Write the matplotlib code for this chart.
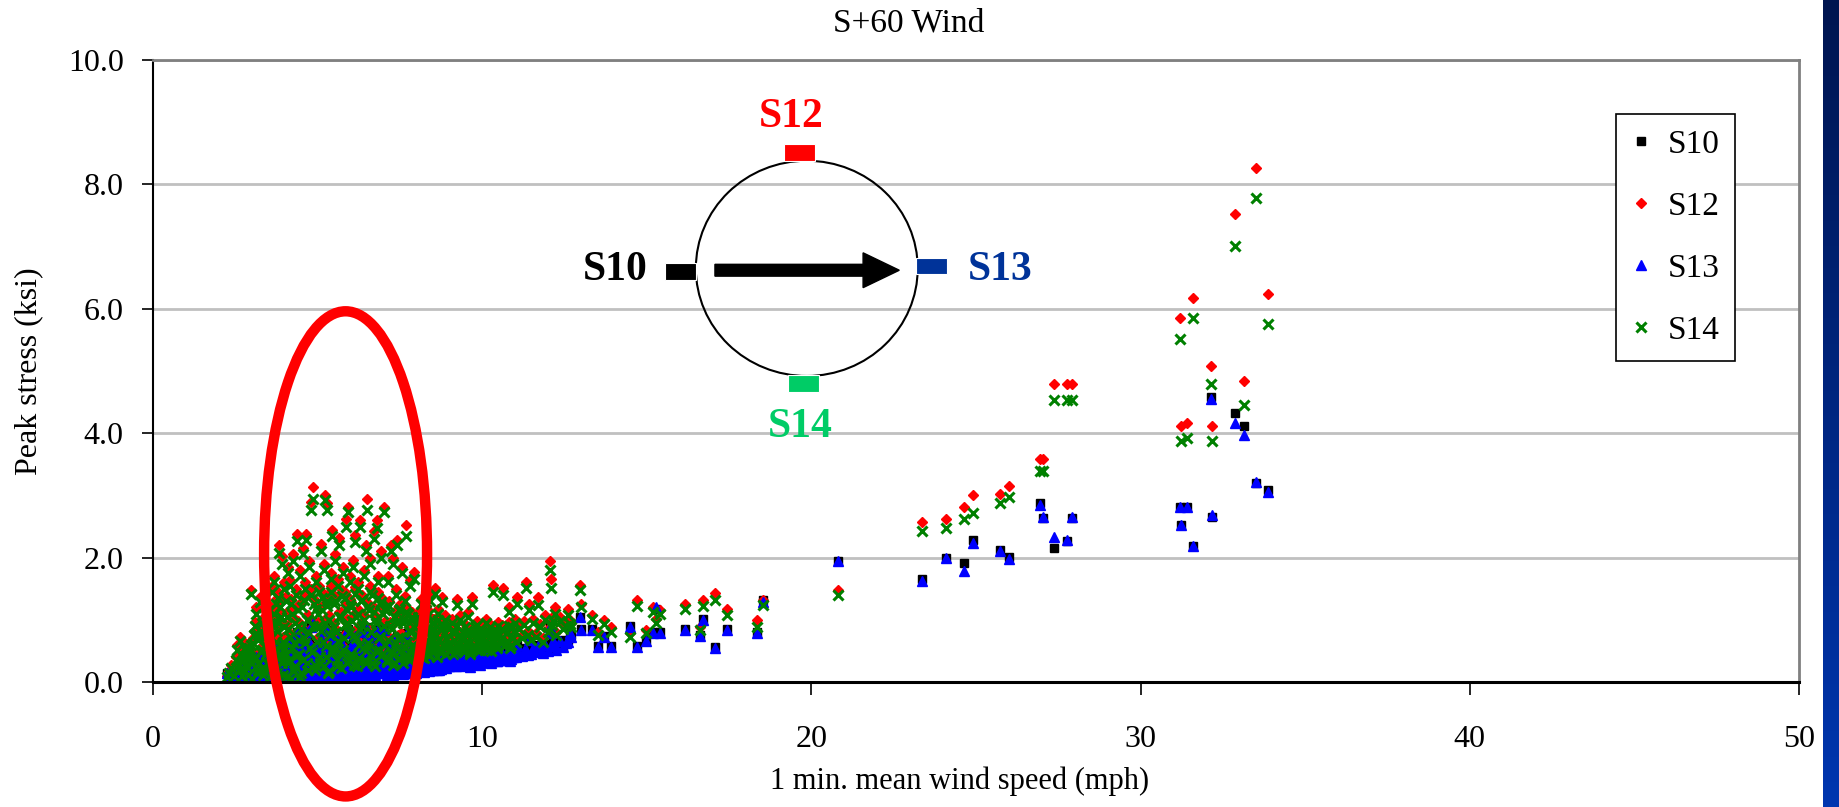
import numpy as np
import matplotlib
matplotlib.use("Agg")
import matplotlib.pyplot as plt
from matplotlib.patches import Ellipse, Rectangle, FancyArrow
from matplotlib.colors import LinearSegmentedColormap

plt.rcParams['font.family'] = ['Liberation Serif', 'DejaVu Serif']

# 1-min mean wind speed (mph) for each record, and peak stress (ksi) at each gauge
wind = [
    2.24, 2.30, 2.38, 2.45, 2.52, 2.55, 2.60, 2.64, 2.72, 2.80, 2.88, 2.93, 2.97, 2.99,
    3.02, 3.05, 3.08, 3.10, 3.14, 3.18, 3.20, 3.24, 3.27, 3.30, 3.33, 3.36, 3.40, 3.43, 3.46, 3.49,
    3.51, 3.53, 3.56, 3.58, 3.61, 3.63, 3.66, 3.68, 3.71, 3.73, 3.76, 3.78, 3.81, 3.84, 3.86, 3.88, 3.91, 3.93, 3.96, 3.98,
    4.01, 4.04, 4.06, 4.09, 4.11, 4.14, 4.17, 4.19, 4.22, 4.25, 4.28, 4.31, 4.34, 4.38, 4.41, 4.44,
    4.47, 4.50, 4.53, 4.56, 4.60, 4.63, 4.66, 4.69, 4.72, 4.75, 4.78, 4.81, 4.85, 4.88, 4.92, 4.96,
    5.00, 5.03, 5.06, 5.09, 5.12, 5.15, 5.18, 5.22, 5.25, 5.28, 5.30, 5.33, 5.36, 5.40, 5.43, 5.46,
    5.50, 5.53, 5.56, 5.60, 5.63, 5.66, 5.70, 5.73, 5.76, 5.80, 5.83, 5.87, 5.90, 5.93, 5.96, 5.99,
    6.02, 6.05, 6.08, 6.11, 6.14, 6.17, 6.20, 6.24, 6.27, 6.30, 6.33, 6.36, 6.40, 6.43, 6.46, 6.49,
    6.52, 6.55, 6.58, 6.62, 6.65, 6.68, 6.71, 6.74, 6.77, 6.80, 6.83, 6.86, 6.90, 6.93, 6.96, 6.99,
    7.03, 7.06, 7.09, 7.12, 7.15, 7.19, 7.22, 7.25, 7.29, 7.32, 7.35, 7.38, 7.41, 7.45, 7.48,
    7.51, 7.55, 7.58, 7.61, 7.64, 7.68, 7.71, 7.74, 7.78, 7.81, 7.84, 7.88, 7.91, 7.94, 7.97,
    8.02, 8.06, 8.10, 8.14, 8.18, 8.22, 8.26, 8.30, 8.34, 8.38, 8.42, 8.46,
    8.50, 8.54, 8.57, 8.61, 8.65, 8.69, 8.73, 8.77, 8.81, 8.86, 8.91, 8.96,
    9.02, 9.07, 9.12, 9.17, 9.22, 9.27, 9.32, 9.37, 9.42, 9.47,
    9.52, 9.57, 9.62, 9.68, 9.73, 9.78, 9.83, 9.88, 9.92, 9.96,
    10.03, 10.08, 10.13, 10.18, 10.23, 10.28, 10.34, 10.39, 10.44, 10.49,
    10.54, 10.59, 10.64, 10.69, 10.74, 10.80, 10.85, 10.90, 10.95, 10.99,
    11.07, 11.33, 11.43, 11.70, 12.06, 12.08, 12.16, 12.20, 12.62, 12.66, 12.70, 12.97, 13.00,
    13.33, 13.53, 13.70, 13.90, 14.50, 14.71, 14.98, 15.20, 15.40, 15.28, 16.16, 16.62, 16.72,
    17.08, 17.45, 18.36, 18.54, 20.80, 23.36, 24.10, 24.64, 24.92, 25.73, 26.00, 26.95, 27.05,
    27.38, 27.75, 27.93, 31.20, 31.23, 31.40, 31.58, 32.14, 32.16, 32.87, 33.14, 33.51, 33.86,
]
s10 = [
    0.14, 0.09, 0.12, 0.07, 0.19, 0.21, 0.16, 0.26, 0.22, 0.11, 0.21, 0.27, 0.46, 0.17,
    0.05, 0.26, 0.13, 0.36, 0.42, 0.09, 0.30, 0.47, 0.19, 0.34, 0.06, 0.44, 0.23, 0.31, 0.11, 0.40,
    0.13, 0.44, 0.06, 0.26, 0.52, 0.11, 0.36, 0.57, 0.19, 0.45, 0.07, 0.31, 0.50, 0.64, 0.16, 0.40, 0.60, 0.10, 0.23, 0.54,
    0.21, 0.50, 0.07, 0.64, 0.31, 0.13, 0.57, 0.05, 0.41, 0.72, 0.23, 0.11, 0.52, 0.80, 0.33, 0.16,
    0.62, 0.09, 0.43, 0.74, 0.26, 0.54, 0.82, 0.13, 0.36, 0.67, 0.19, 0.90, 0.97, 0.45, 0.11, 0.58,
    0.33, 0.52, 0.13, 0.72, 0.42, 0.23, 0.62, 0.88, 0.15, 0.47, 0.84, 0.11, 0.36, 0.57, 0.77, 0.19,
    0.44, 0.68, 0.29, 0.11, 0.54, 0.74, 0.38, 0.17, 0.60, 0.25, 0.48, 0.80, 0.34, 0.86, 0.13, 0.56,
    0.44, 0.17, 0.64, 0.29, 0.76, 0.40, 0.13, 0.52, 0.21, 0.82, 0.47, 0.33, 0.60, 0.15, 0.72, 0.88,
    0.19, 0.42, 0.66, 0.31, 0.50, 0.13, 0.78, 0.37, 0.17, 0.84, 0.56, 0.25, 0.46, 0.68, 0.16, 0.40,
    0.86, 0.23, 0.44, 0.16, 0.57, 0.33, 0.70, 0.19, 0.64, 0.40, 0.15, 0.50, 0.74, 0.26, 0.42,
    0.21, 0.60, 0.35, 0.17, 0.47, 0.78, 0.25, 0.40, 0.16, 0.54, 0.31, 0.38, 0.21, 0.58, 0.19,
    0.21, 0.44, 0.29, 0.52, 0.19, 0.37, 0.25, 0.48, 0.33, 0.21, 0.54, 0.27,
    0.40, 0.23, 0.58, 0.31, 0.46, 0.21, 0.35, 0.52, 0.26, 0.42, 0.29, 0.38,
    0.31, 0.44, 0.26, 0.37, 0.52, 0.29, 0.46, 0.35, 0.27, 0.42,
    0.31, 0.48, 0.25, 0.54, 0.36, 0.31, 0.44, 0.33, 0.28, 0.40,
    0.41, 0.33, 0.50, 0.37, 0.46, 0.31, 0.62, 0.44, 0.35, 0.52,
    0.39, 0.48, 0.64, 0.36, 0.45, 0.57, 0.34, 0.50, 0.41, 0.54,
    0.62, 0.55, 0.70, 0.60, 0.90, 0.80, 0.68, 0.62, 0.67, 0.80, 0.75, 1.05, 0.86,
    0.86, 0.58, 0.74, 0.58, 0.90, 0.58, 0.67, 0.80, 0.80, 1.18, 0.86, 0.76, 1.01,
    0.56, 0.86, 0.80, 1.32, 1.95, 1.66, 1.99, 1.91, 2.28, 2.12, 2.01, 2.88, 2.64,
    2.15, 2.27, 2.64, 2.82, 2.52, 2.82, 2.18, 4.59, 2.66, 4.32, 4.12, 3.20, 3.09,
]
s12 = [
    0.10, 0.18, 0.28, 0.14, 0.40, 0.60, 0.33, 0.73, 0.46, 0.22, 0.52, 0.60, 1.48, 0.36,
    0.08, 0.70, 0.40, 0.97, 1.20, 0.25, 0.82, 1.36, 0.55, 1.02, 0.16, 1.30, 0.66, 0.92, 0.35, 1.12,
    0.45, 1.24, 0.12, 0.76, 1.55, 0.30, 1.02, 1.70, 0.58, 1.33, 0.20, 0.90, 1.44, 2.20, 0.50, 1.12, 2.02, 0.35, 0.72, 1.60,
    0.60, 1.38, 0.14, 1.85, 0.92, 0.40, 1.64, 0.08, 1.18, 2.05, 0.68, 0.30, 1.50, 2.38, 0.98, 0.50,
    1.80, 0.18, 1.28, 2.15, 0.76, 1.60, 2.38, 0.35, 1.08, 1.95, 0.60, 2.90, 3.14, 1.34, 0.24, 1.70,
    0.96, 1.55, 0.36, 2.22, 1.22, 0.70, 1.90, 3.01, 0.45, 1.40, 2.88, 0.20, 1.08, 1.76, 2.45, 0.60,
    1.34, 2.06, 0.86, 0.30, 1.65, 2.32, 1.12, 0.50, 1.85, 0.76, 1.44, 2.62, 1.02, 2.82, 0.40, 1.70,
    1.28, 0.45, 1.96, 0.82, 2.36, 1.12, 0.30, 1.60, 0.66, 2.60, 1.38, 0.96, 1.80, 0.40, 2.20, 2.95,
    0.60, 1.22, 2.00, 0.86, 1.50, 0.35, 2.42, 1.08, 0.56, 2.60, 1.70, 0.76, 1.33, 2.10, 0.50, 1.18,
    2.82, 0.66, 1.28, 0.40, 1.70, 0.96, 2.20, 0.50, 2.00, 1.12, 0.35, 1.50, 2.29, 0.76, 1.22,
    0.56, 1.85, 1.02, 0.45, 1.38, 2.52, 0.70, 1.18, 0.40, 1.64, 0.86, 1.08, 0.60, 1.77, 0.50,
    0.56, 1.12, 0.76, 1.34, 0.45, 0.96, 0.66, 1.22, 0.86, 0.50, 1.40, 0.70,
    1.02, 0.60, 1.51, 0.80, 1.18, 0.56, 0.92, 1.37, 0.66, 1.08, 0.76, 0.97,
    0.66, 1.02, 0.50, 0.86, 1.33, 0.60, 1.08, 0.76, 0.55, 0.94,
    0.68, 1.12, 0.53, 1.37, 0.82, 0.64, 0.98, 0.72, 0.58, 0.92,
    0.76, 0.60, 1.02, 0.68, 0.86, 0.55, 1.56, 0.80, 0.63, 0.96,
    0.72, 0.92, 1.51, 0.66, 0.84, 1.20, 0.60, 0.94, 0.76, 1.02,
    1.37, 1.61, 1.26, 1.37, 1.95, 1.65, 1.06, 1.20, 1.17, 1.00, 0.95, 1.56, 1.25,
    1.08, 0.81, 0.99, 0.89, 0.78, 1.32, 0.84, 1.21, 1.16, 1.02, 1.26, 0.89, 1.32,
    1.43, 1.17, 0.99, 1.32, 1.48, 2.58, 2.62, 2.82, 3.00, 3.02, 3.15, 3.58, 3.58,
    4.79, 4.79, 4.79, 5.85, 4.12, 4.16, 6.18, 5.08, 4.12, 7.53, 4.84, 8.26, 6.24,
]
s13 = [
    0.14, 0.08, 0.12, 0.06, 0.18, 0.20, 0.15, 0.25, 0.22, 0.10, 0.20, 0.26, 0.45, 0.16,
    0.04, 0.25, 0.12, 0.35, 0.40, 0.08, 0.28, 0.45, 0.18, 0.32, 0.05, 0.42, 0.22, 0.30, 0.10, 0.38,
    0.12, 0.42, 0.05, 0.25, 0.50, 0.10, 0.35, 0.55, 0.18, 0.44, 0.06, 0.30, 0.48, 0.62, 0.15, 0.38, 0.58, 0.09, 0.22, 0.52,
    0.20, 0.48, 0.06, 0.62, 0.30, 0.12, 0.55, 0.04, 0.40, 0.70, 0.22, 0.10, 0.50, 0.78, 0.32, 0.15,
    0.60, 0.08, 0.42, 0.72, 0.25, 0.52, 0.80, 0.12, 0.35, 0.65, 0.18, 0.88, 0.95, 0.44, 0.10, 0.56,
    0.32, 0.50, 0.12, 0.70, 0.40, 0.22, 0.60, 0.85, 0.14, 0.45, 0.82, 0.10, 0.35, 0.55, 0.75, 0.18,
    0.42, 0.66, 0.28, 0.10, 0.52, 0.72, 0.36, 0.16, 0.58, 0.24, 0.46, 0.78, 0.33, 0.84, 0.12, 0.54,
    0.42, 0.16, 0.62, 0.28, 0.74, 0.38, 0.12, 0.50, 0.20, 0.80, 0.45, 0.32, 0.58, 0.14, 0.70, 0.86,
    0.18, 0.40, 0.64, 0.30, 0.48, 0.12, 0.76, 0.36, 0.16, 0.82, 0.54, 0.24, 0.44, 0.66, 0.15, 0.38,
    0.84, 0.22, 0.42, 0.15, 0.55, 0.32, 0.68, 0.18, 0.62, 0.38, 0.14, 0.48, 0.72, 0.25, 0.40,
    0.20, 0.58, 0.34, 0.16, 0.45, 0.76, 0.24, 0.38, 0.15, 0.52, 0.30, 0.36, 0.20, 0.56, 0.18,
    0.20, 0.42, 0.28, 0.50, 0.18, 0.36, 0.24, 0.46, 0.32, 0.20, 0.52, 0.26,
    0.38, 0.22, 0.56, 0.30, 0.44, 0.20, 0.34, 0.50, 0.25, 0.40, 0.28, 0.36,
    0.30, 0.42, 0.25, 0.36, 0.50, 0.28, 0.44, 0.34, 0.26, 0.40,
    0.30, 0.46, 0.24, 0.52, 0.35, 0.30, 0.42, 0.32, 0.27, 0.38,
    0.40, 0.32, 0.48, 0.36, 0.44, 0.30, 0.60, 0.42, 0.34, 0.50,
    0.38, 0.46, 0.62, 0.35, 0.43, 0.55, 0.33, 0.48, 0.40, 0.52,
    0.60, 0.52, 0.68, 0.58, 0.89, 0.78, 0.66, 0.60, 0.65, 0.78, 0.73, 1.04, 0.84,
    0.84, 0.56, 0.73, 0.56, 0.89, 0.56, 0.66, 0.78, 0.78, 1.20, 0.84, 0.74, 0.99,
    0.54, 0.84, 0.78, 1.28, 1.95, 1.62, 1.99, 1.79, 2.23, 2.10, 1.97, 2.84, 2.66,
    2.33, 2.29, 2.66, 2.82, 2.52, 2.82, 2.18, 4.55, 2.68, 4.16, 3.97, 3.22, 3.05,
]
s14 = [
    0.08, 0.15, 0.22, 0.10, 0.35, 0.52, 0.28, 0.66, 0.40, 0.18, 0.45, 0.55, 1.42, 0.30,
    0.05, 0.62, 0.35, 0.90, 1.10, 0.20, 0.75, 1.28, 0.48, 0.95, 0.12, 1.20, 0.60, 0.85, 0.30, 1.05,
    0.40, 1.15, 0.08, 0.70, 1.45, 0.25, 0.95, 1.60, 0.52, 1.25, 0.15, 0.82, 1.35, 2.08, 0.45, 1.05, 1.90, 0.30, 0.65, 1.50,
    0.55, 1.30, 0.10, 1.75, 0.85, 0.35, 1.55, 0.05, 1.10, 1.95, 0.62, 0.25, 1.40, 2.26, 0.90, 0.45,
    1.70, 0.15, 1.20, 2.05, 0.70, 1.50, 2.28, 0.30, 1.00, 1.85, 0.55, 2.77, 2.95, 1.25, 0.20, 1.60,
    0.90, 1.45, 0.30, 2.10, 1.15, 0.65, 1.80, 2.92, 0.40, 1.30, 2.76, 0.15, 1.00, 1.65, 2.35, 0.55,
    1.25, 1.95, 0.80, 0.25, 1.55, 2.20, 1.05, 0.45, 1.75, 0.70, 1.35, 2.50, 0.95, 2.74, 0.35, 1.60,
    1.20, 0.40, 1.85, 0.75, 2.25, 1.05, 0.25, 1.50, 0.60, 2.50, 1.30, 0.90, 1.70, 0.35, 2.10, 2.77,
    0.55, 1.15, 1.90, 0.80, 1.40, 0.30, 2.30, 1.00, 0.50, 2.48, 1.60, 0.70, 1.25, 2.00, 0.45, 1.10,
    2.74, 0.60, 1.20, 0.35, 1.60, 0.90, 2.10, 0.45, 1.90, 1.05, 0.30, 1.40, 2.20, 0.70, 1.15,
    0.50, 1.75, 0.95, 0.40, 1.30, 2.34, 0.65, 1.10, 0.35, 1.55, 0.80, 1.00, 0.55, 1.66, 0.45,
    0.50, 1.05, 0.70, 1.25, 0.40, 0.90, 0.60, 1.15, 0.80, 0.45, 1.30, 0.65,
    0.95, 0.55, 1.42, 0.75, 1.10, 0.50, 0.85, 1.28, 0.60, 1.00, 0.70, 0.90,
    0.60, 0.95, 0.45, 0.80, 1.23, 0.55, 1.00, 0.70, 0.50, 0.88,
    0.62, 1.05, 0.48, 1.26, 0.75, 0.58, 0.92, 0.66, 0.52, 0.85,
    0.70, 0.55, 0.95, 0.62, 0.80, 0.50, 1.45, 0.75, 0.58, 0.90,
    0.66, 0.85, 1.40, 0.60, 0.78, 1.12, 0.55, 0.88, 0.70, 0.95,
    1.26, 1.51, 1.16, 1.23, 1.80, 1.51, 0.98, 1.10, 1.08, 0.94, 0.88, 1.48, 1.20,
    1.02, 0.75, 0.94, 0.81, 0.73, 1.22, 0.78, 1.13, 1.10, 0.95, 1.17, 0.84, 1.22,
    1.32, 1.08, 0.89, 1.24, 1.40, 2.42, 2.47, 2.62, 2.71, 2.88, 2.98, 3.40, 3.40,
    4.54, 4.54, 4.54, 5.51, 3.87, 3.93, 5.85, 4.79, 3.87, 7.01, 4.45, 7.78, 5.76,
]

# further low-wind records (the dense band under the peaks)
wind_b = [
    2.62, 2.66, 2.70, 2.74, 2.78, 2.82, 2.86, 2.90, 2.94, 2.98, 3.02, 3.06,
    3.11, 3.15, 3.19, 3.23, 3.27, 3.31, 3.35, 3.39, 3.43, 3.47, 3.51, 3.55,
    3.59, 3.63, 3.67, 3.71, 3.75, 3.79, 3.83, 3.87, 3.91, 3.95, 3.99, 4.03,
    4.07, 4.11, 4.15, 4.19, 4.23, 4.27, 4.31, 4.35, 4.39, 4.43, 4.47, 4.51,
    4.55, 4.59, 4.63, 4.67, 4.71, 4.75, 4.79, 4.83, 4.87, 4.91, 4.95, 4.99,
    5.02, 5.06, 5.10, 5.14, 5.18, 5.22, 5.26, 5.30, 5.34, 5.38, 5.42, 5.46,
    5.50, 5.54, 5.58, 5.62, 5.66, 5.70, 5.74, 5.78, 5.82, 5.86, 5.90, 5.94,
    5.98, 6.02, 6.06, 6.10, 6.14, 6.18, 6.22, 6.26, 6.30, 6.34, 6.38, 6.42,
    6.46, 6.50, 6.54, 6.58, 6.62, 6.66, 6.70, 6.74, 6.78, 6.82, 6.86, 6.90,
    6.94, 6.98, 7.02, 7.06, 7.10, 7.14, 7.18, 7.22, 7.26, 7.30, 7.34, 7.38,
    7.42, 7.46, 7.50, 7.54, 7.58, 7.62, 7.66, 7.70, 7.74, 7.78, 7.82, 7.86,
    7.90, 7.94, 7.98, 8.02, 8.06, 8.10, 8.14, 8.18, 8.22, 8.26, 8.30, 8.34,
    8.38, 8.42, 8.46, 8.50, 8.54, 8.58, 8.62, 8.66, 8.70, 8.74, 8.78, 8.82,
    8.86, 8.90, 8.94, 8.98, 9.04, 9.09, 9.14, 9.19, 9.24, 9.29, 9.34, 9.39,
    9.44, 9.49, 9.54, 9.59, 9.64, 9.69, 9.74, 9.79, 9.84, 9.89, 9.94, 9.99,
    10.05, 10.10, 10.15, 10.20, 10.25, 10.31, 10.36, 10.41, 10.46, 10.51, 10.56, 10.61,
    10.66, 10.71, 10.76, 10.82, 10.87, 10.92, 10.97, 11.03, 11.12, 11.20, 11.28, 11.38,
    11.48, 11.55, 11.62, 11.76, 11.84, 11.92, 12.00, 12.12, 12.25, 12.35, 12.45, 12.55,
]
s10_b = [
    0.11, 0.19, 0.07, 0.15, 0.23, 0.13, 0.21, 0.06, 0.17, 0.25, 0.13, 0.29,
    0.16, 0.07, 0.25, 0.13, 0.31, 0.21, 0.09, 0.27, 0.17, 0.35, 0.23, 0.11,
    0.31, 0.19, 0.39, 0.09, 0.23, 0.35, 0.15, 0.43, 0.21, 0.06, 0.31, 0.17,
    0.37, 0.13, 0.26, 0.45, 0.21, 0.08, 0.34, 0.16, 0.41, 0.25, 0.05, 0.31,
    0.13, 0.47, 0.23, 0.36, 0.09, 0.27, 0.51, 0.17, 0.31, 0.11, 0.41, 0.23,
    0.39, 0.15, 0.29, 0.47, 0.11, 0.33, 0.21, 0.43, 0.09, 0.27, 0.51, 0.18,
    0.31, 0.45, 0.13, 0.23, 0.37, 0.11, 0.47, 0.19, 0.33, 0.41, 0.13, 0.27,
    0.43, 0.17, 0.34, 0.13, 0.49, 0.25, 0.38, 0.15, 0.30, 0.45, 0.19, 0.35,
    0.13, 0.41, 0.21, 0.49, 0.28, 0.15, 0.39, 0.13, 0.33, 0.46, 0.18, 0.25,
    0.43, 0.16, 0.31, 0.39, 0.13, 0.23, 0.41, 0.17, 0.29, 0.13, 0.36, 0.21,
    0.31, 0.15, 0.39, 0.25, 0.14, 0.33, 0.19, 0.37, 0.16, 0.27, 0.15, 0.35,
    0.21, 0.29, 0.16, 0.25, 0.33, 0.19, 0.23, 0.31, 0.17, 0.27, 0.21, 0.35,
    0.19, 0.27, 0.33, 0.21, 0.31, 0.25, 0.20, 0.35, 0.26, 0.22, 0.33, 0.25,
    0.29, 0.23, 0.33, 0.27, 0.29, 0.35, 0.31, 0.27, 0.39, 0.29, 0.34, 0.28,
    0.33, 0.29, 0.37, 0.31, 0.28, 0.36, 0.31, 0.39, 0.30, 0.34, 0.32, 0.37,
    0.35, 0.41, 0.33, 0.39, 0.45, 0.35, 0.37, 0.43, 0.34, 0.41, 0.36, 0.45,
    0.37, 0.43, 0.39, 0.47, 0.38, 0.41, 0.45, 0.41, 0.47, 0.43, 0.51, 0.45,
    0.46, 0.56, 0.49, 0.53, 0.47, 0.61, 0.51, 0.59, 0.53, 0.67, 0.57, 0.63,
]
s12_b = [
    0.25, 0.50, 0.14, 0.40, 0.62, 0.30, 0.54, 0.16, 0.46, 0.66, 0.35, 0.82,
    0.46, 0.20, 0.74, 0.35, 0.88, 0.58, 0.25, 0.78, 0.50, 1.02, 0.68, 0.33,
    0.92, 0.56, 1.18, 0.27, 0.72, 1.02, 0.44, 1.28, 0.64, 0.16, 0.95, 0.50,
    1.12, 0.35, 0.78, 1.34, 0.60, 0.22, 1.02, 0.48, 1.24, 0.74, 0.12, 0.92,
    0.40, 1.42, 0.68, 1.08, 0.25, 0.84, 1.50, 0.54, 0.97, 0.33, 1.26, 0.70,
    1.18, 0.46, 0.88, 1.44, 0.30, 1.02, 0.64, 1.30, 0.22, 0.80, 1.55, 0.53,
    0.95, 1.38, 0.40, 0.72, 1.12, 0.27, 1.48, 0.58, 0.98, 1.26, 0.35, 0.84,
    1.34, 0.50, 1.05, 0.33, 1.52, 0.76, 1.18, 0.43, 0.92, 1.40, 0.60, 1.08,
    0.35, 1.28, 0.68, 1.55, 0.86, 0.45, 1.20, 0.30, 1.02, 1.44, 0.58, 0.78,
    1.36, 0.50, 0.96, 1.22, 0.37, 0.74, 1.30, 0.56, 0.92, 0.33, 1.12, 0.68,
    1.02, 0.43, 1.25, 0.78, 0.35, 1.08, 0.60, 1.20, 0.47, 0.88, 0.40, 1.12,
    0.66, 0.94, 0.45, 0.80, 1.10, 0.53, 0.70, 0.98, 0.43, 0.86, 0.60, 1.15,
    0.47, 0.78, 1.02, 0.55, 0.90, 0.68, 0.45, 1.06, 0.74, 0.53, 0.96, 0.64,
    0.84, 0.50, 0.94, 0.68, 0.57, 0.86, 0.74, 0.53, 0.96, 0.66, 0.81, 0.60,
    0.76, 0.55, 0.88, 0.68, 0.50, 0.84, 0.64, 0.94, 0.57, 0.78, 0.68, 0.86,
    0.68, 0.86, 0.57, 0.78, 0.94, 0.64, 0.74, 0.88, 0.60, 0.80, 0.68, 0.92,
    0.64, 0.84, 0.72, 0.96, 0.66, 0.78, 0.88, 0.70, 0.92, 0.76, 0.98, 0.82,
    0.74, 1.02, 0.78, 0.94, 0.70, 1.08, 0.86, 0.98, 0.80, 1.05, 0.92, 0.96,
]
s13_b = [
    0.10, 0.18, 0.06, 0.14, 0.22, 0.12, 0.20, 0.05, 0.16, 0.24, 0.12, 0.28,
    0.15, 0.06, 0.24, 0.12, 0.30, 0.20, 0.08, 0.26, 0.16, 0.34, 0.22, 0.10,
    0.30, 0.18, 0.38, 0.08, 0.22, 0.34, 0.14, 0.42, 0.20, 0.05, 0.30, 0.16,
    0.36, 0.12, 0.25, 0.44, 0.20, 0.07, 0.33, 0.15, 0.40, 0.24, 0.04, 0.30,
    0.12, 0.46, 0.22, 0.35, 0.08, 0.26, 0.50, 0.16, 0.30, 0.10, 0.40, 0.22,
    0.38, 0.14, 0.28, 0.46, 0.10, 0.32, 0.20, 0.42, 0.08, 0.26, 0.50, 0.17,
    0.30, 0.44, 0.12, 0.22, 0.36, 0.10, 0.46, 0.18, 0.32, 0.40, 0.12, 0.26,
    0.42, 0.16, 0.33, 0.12, 0.48, 0.24, 0.37, 0.14, 0.29, 0.44, 0.18, 0.34,
    0.12, 0.40, 0.20, 0.48, 0.27, 0.14, 0.38, 0.12, 0.32, 0.45, 0.17, 0.24,
    0.42, 0.15, 0.30, 0.38, 0.12, 0.22, 0.40, 0.16, 0.28, 0.12, 0.35, 0.20,
    0.30, 0.14, 0.38, 0.24, 0.13, 0.32, 0.18, 0.36, 0.15, 0.26, 0.14, 0.34,
    0.20, 0.28, 0.15, 0.24, 0.32, 0.18, 0.22, 0.30, 0.16, 0.26, 0.20, 0.34,
    0.18, 0.26, 0.32, 0.20, 0.30, 0.24, 0.19, 0.34, 0.25, 0.21, 0.32, 0.24,
    0.28, 0.22, 0.32, 0.26, 0.28, 0.34, 0.30, 0.26, 0.38, 0.28, 0.33, 0.27,
    0.32, 0.28, 0.36, 0.30, 0.27, 0.35, 0.30, 0.38, 0.29, 0.33, 0.31, 0.36,
    0.34, 0.40, 0.32, 0.38, 0.44, 0.34, 0.36, 0.42, 0.33, 0.40, 0.35, 0.44,
    0.36, 0.42, 0.38, 0.46, 0.37, 0.40, 0.44, 0.40, 0.46, 0.42, 0.50, 0.44,
    0.45, 0.55, 0.48, 0.52, 0.46, 0.60, 0.50, 0.58, 0.52, 0.66, 0.56, 0.62,
]
s14_b = [
    0.20, 0.45, 0.10, 0.35, 0.55, 0.25, 0.48, 0.12, 0.40, 0.60, 0.30, 0.75,
    0.40, 0.15, 0.68, 0.30, 0.82, 0.52, 0.20, 0.72, 0.45, 0.95, 0.62, 0.28,
    0.85, 0.50, 1.10, 0.22, 0.65, 0.95, 0.38, 1.20, 0.58, 0.12, 0.88, 0.45,
    1.05, 0.30, 0.72, 1.25, 0.55, 0.18, 0.95, 0.42, 1.15, 0.68, 0.08, 0.85,
    0.35, 1.32, 0.62, 1.00, 0.20, 0.78, 1.40, 0.48, 0.90, 0.28, 1.18, 0.65,
    1.10, 0.40, 0.82, 1.35, 0.25, 0.95, 0.58, 1.22, 0.18, 0.75, 1.45, 0.48,
    0.88, 1.30, 0.35, 0.66, 1.05, 0.22, 1.38, 0.52, 0.92, 1.18, 0.30, 0.78,
    1.25, 0.45, 0.98, 0.28, 1.42, 0.70, 1.10, 0.38, 0.85, 1.32, 0.55, 1.00,
    0.30, 1.20, 0.62, 1.45, 0.80, 0.40, 1.12, 0.25, 0.95, 1.35, 0.52, 0.72,
    1.28, 0.45, 0.90, 1.15, 0.32, 0.68, 1.22, 0.50, 0.85, 0.28, 1.05, 0.62,
    0.95, 0.38, 1.18, 0.72, 0.30, 1.00, 0.55, 1.12, 0.42, 0.82, 0.35, 1.05,
    0.60, 0.88, 0.40, 0.75, 1.02, 0.48, 0.65, 0.92, 0.38, 0.80, 0.55, 1.08,
    0.42, 0.72, 0.95, 0.50, 0.85, 0.62, 0.40, 1.00, 0.68, 0.48, 0.90, 0.58,
    0.78, 0.45, 0.88, 0.62, 0.52, 0.80, 0.68, 0.48, 0.90, 0.60, 0.75, 0.55,
    0.70, 0.50, 0.82, 0.62, 0.45, 0.78, 0.58, 0.88, 0.52, 0.72, 0.62, 0.80,
    0.62, 0.80, 0.52, 0.72, 0.88, 0.58, 0.68, 0.82, 0.55, 0.75, 0.62, 0.85,
    0.58, 0.78, 0.66, 0.90, 0.60, 0.72, 0.82, 0.64, 0.85, 0.70, 0.92, 0.75,
    0.68, 0.95, 0.72, 0.88, 0.65, 1.00, 0.80, 0.92, 0.75, 0.98, 0.85, 0.90,
]

series = ["S10", "S12", "S13", "S14"]
yticks = [0, 2, 4, 6, 8, 10]
xticks = [0, 10, 20, 30, 40, 50]

x_all = wind + wind_b
W, H = 1840, 807
fig = plt.figure(figsize=(W / 100, H / 100), dpi=100)
ax = fig.add_axes([153 / W, 1 - 682 / H, (1799 - 153) / W, (682 - 60) / H])

ax.plot(x_all, s10 + s10_b, ls="none", marker="s", ms=6, color="black", label=series[0])
ax.plot(x_all, s12 + s12_b, ls="none", marker="D", ms=5.5, color="#ff0000", label=series[1])
ax.plot(x_all, s13 + s13_b, ls="none", marker="^", ms=7, color="#0000ff", label=series[2])
ax.plot(x_all, s14 + s14_b, ls="none", marker="x", ms=7, mew=2.2, color="#008000", label=series[3])

ax.set_xlim(0, 50)
ax.set_ylim(0, 10)
ax.set_xticks(xticks)
ax.set_yticks(yticks)
ax.set_yticklabels([f"{v:.1f}" for v in yticks])
ax.tick_params(axis="y", direction="out", length=8, width=1.2, pad=13, labelsize=23)
ax.tick_params(axis="x", direction="out", length=9, width=1.2, pad=22, labelsize=23)
ax.yaxis.grid(True, color="#c0c0c0", lw=2)
ax.set_axisbelow(True)
for s in ["top", "right"]:
    ax.spines[s].set_color("#808080")
    ax.spines[s].set_linewidth(2)
ax.spines["left"].set_linewidth(1.5)
ax.spines["bottom"].set_linewidth(2.2)

# red ellipse highlighting the low-wind cluster
ax.add_patch(Ellipse((5.85, 2.06), 4.95, 7.8, fill=False, ec="#ff0000", lw=7.5, clip_on=False, zorder=5))

# gauge location sketch
ax.add_patch(Ellipse((19.86, 6.65), 6.74, 3.46, fill=False, ec="black", lw=1.5, zorder=6))
ax.add_patch(Rectangle((19.17, 8.38), 0.94, 0.27, fc="#ff0000", ec="white", lw=0.8, zorder=7))
ax.add_patch(Rectangle((15.55, 6.46), 0.94, 0.27, fc="black", ec="white", lw=0.8, zorder=7))
ax.add_patch(Rectangle((23.18, 6.56), 0.95, 0.26, fc="#003399", ec="white", lw=0.8, zorder=7))
ax.add_patch(Rectangle((19.28, 4.66), 0.96, 0.28, fc="#00cc66", ec="white", lw=0.8, zorder=7))
ax.add_patch(FancyArrow(17.07, 6.62, 5.6, 0, width=0.19, head_width=0.56, head_length=1.1,
                        length_includes_head=True, fc="black", ec="black", zorder=7))
lab = dict(fontsize=30, fontweight="bold", ha="center", va="center", zorder=8)
ax.text(19.39, 9.09, "S12", color="#ff0000", **lab)
ax.text(14.03, 6.62, "S10", color="black", **lab)
ax.text(25.73, 6.62, "S13", color="#003399", **lab)
ax.text(19.67, 4.10, "S14", color="#00cc66", **lab)

leg = ax.legend(loc="upper left", bbox_to_anchor=(0.889, 0.913), fontsize=24, frameon=True,
                fancybox=False, edgecolor="black", framealpha=1, handlelength=0.6,
                handletextpad=0.5, labelspacing=0.95, borderpad=0.45, borderaxespad=0)
leg.get_frame().set_linewidth(1.2)

fig.text(909 / W, 1 - 23 / H, "S+60 Wind", ha="center", va="center", fontsize=24)
fig.text(960 / W, 1 - 781 / H, "1 min. mean wind speed (mph)", ha="center", va="center", fontsize=22)
fig.text(29 / W, 1 - 371 / H, "Peak stress (ksi)", ha="center", va="center", rotation=90, fontsize=23)

# navy bar at the right edge
bar = fig.add_axes([1823 / W, 0, 17 / W, 1])
bar.imshow(np.linspace(0, 1, 256)[:, None], aspect="auto",
           cmap=LinearSegmentedColormap.from_list("bar", ["#001550", "#0036b0"]))
bar.axis("off")

fig.savefig("out.png", dpi=100)
